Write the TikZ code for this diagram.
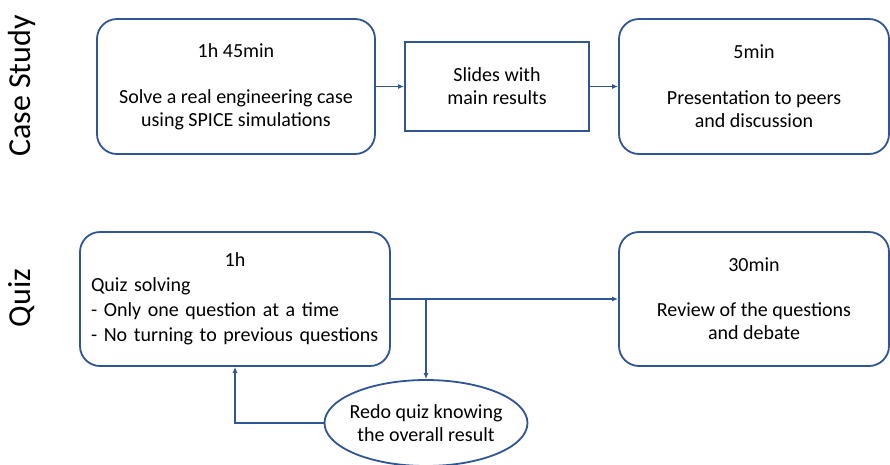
\documentclass[tikz,border=0pt]{standalone}
\usepackage{fontspec}
\setmainfont{Carlito}
\usepackage{tikz}
\usetikzlibrary{arrows.meta,positioning,shapes.geometric}
\definecolor{flowblue}{HTML}{2F5597}

\begin{document}
\begin{tikzpicture}[
  x=1pt,y=-1pt,
  stage/.style={draw=flowblue, line width=1.8pt, rounded corners=20pt, align=center, inner sep=0pt, font=\fontsize{20}{23}\selectfont},
  plain/.style={draw=flowblue, line width=1.8pt, align=center, inner sep=0pt, font=\fontsize{20}{23}\selectfont},
  redo/.style={draw=flowblue, line width=1.8pt, ellipse, align=center, inner sep=-14pt, font=\fontsize{20}{23}\selectfont},
  side/.style={rotate=90, font=\fontsize{32}{36}\selectfont},
  arr/.style={-{Latex[length=6pt,width=5pt]}, draw=flowblue, line width=1.6pt}
]
\useasboundingbox (0,0) rectangle (890,464);
\node[side] (lcase) at (22,86) {Case Study};
\node[side] (lquiz) at (22,298) {Quiz};
\node[stage, minimum width=278pt, minimum height=135pt] (case) at (236,86.5) {1h 45min\\[23pt]Solve a real engineering case\\using SPICE simulations};
\node[plain, minimum width=184pt, minimum height=89pt] (slides) at (497,86.5) {Slides with\\main results};
\node[stage, minimum width=270pt, minimum height=135pt] (pres) at (754,86.5) {5min\\[23pt]Presentation to peers\\and discussion};
\node[stage, minimum width=310pt, minimum height=134pt, text width=288pt, align=left, font=\fontsize{20}{25}\selectfont] (quiz) at (235,299) {\makebox[\linewidth]{1h}\\Quiz solving\\- Only one question at a time\\- No turning to previous questions};
\node[stage, minimum width=270pt, minimum height=134pt] (review) at (754,299) {30min\\[22pt]Review of the questions\\and debate};
\node[redo, minimum width=203pt, minimum height=86pt] (again) at (426,423) {Redo quiz knowing\\the overall result};
\coordinate (split) at (426,299);
\draw[arr] (case.east) -- (slides.west);
\draw[arr] (slides.east) -- (pres.west);
\draw[arr] (quiz.east) -- (review.west);
\draw[arr] (split) -- (again.north);
\draw[arr] (again.west) -| (quiz.south);
\end{tikzpicture}
\end{document}
